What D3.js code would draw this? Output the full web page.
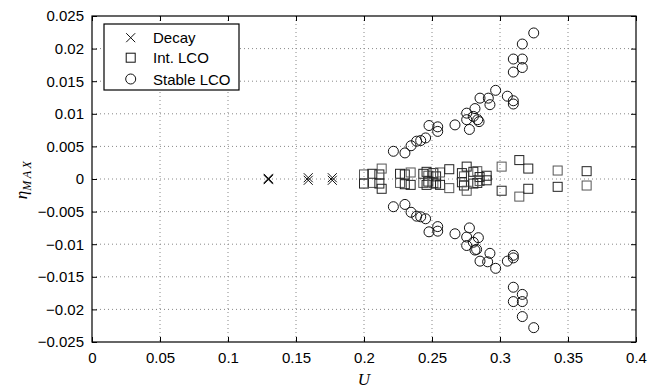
<!DOCTYPE html>
<html><head><meta charset="utf-8">
<script src="https://cdn.jsdelivr.net/npm/d3@7"></script>
<style>body{margin:0;background:#fff}svg{display:block}</style>
</head><body>
<svg id="chart" width="657" height="391"></svg>
<script>
const xTicks = [0,0.05,0.1,0.15,0.2,0.25,0.3,0.35,0.4];
const yTicks = [-0.025,-0.02,-0.015,-0.01,-0.005,0,0.005,0.01,0.015,0.02,0.025];
const legendLabels = ["Decay","Int. LCO","Stable LCO"];

const decayU   = [0.1297,0.1297,0.1297,0.159,0.159,0.1767,0.1767];
const decayEta = [0,0.0001,-0.0001,0.0002,-0.0002,0.0002,-0.0002];

const intU = [0.2000,0.2000,0.2061,0.2061,0.2113,0.2113,0.2130,0.2130,0.2265,0.2265,0.2300,0.2300,0.2343,0.2343,
  0.2436,0.2436,0.2460,0.2460,0.2473,0.2473,0.2510,0.2510,0.2530,0.2530,0.2559,0.2559,0.2627,0.2627,
  0.2720,0.2720,0.2735,0.2735,0.2755,0.2755,0.2804,0.2804,0.2833,0.2833,0.2850,0.2850,0.2902,0.2902,
  0.3012,0.3012,0.3142,0.3142,0.3208,0.3208,0.3424,0.3424,0.3637,0.3637];
const intEta = [0.0007,-0.0007,0.0008,-0.0006,0.0007,-0.0007,0.0016,-0.0015,0.0008,-0.0006,0.0007,-0.0008,0.0010,-0.0009,
  0.0008,-0.0006,0.0011,-0.0009,0.0005,-0.0004,0.0009,-0.0006,0.0004,-0.0007,0.0010,-0.0009,0.0015,-0.0014,
  0.0009,-0.0005,0.0004,-0.0010,0.0019,-0.0018,0.0011,-0.0007,0.0012,-0.0006,0.0003,-0.0003,0.0005,-0.0002,
  0.0019,-0.0018,0.0029,-0.0027,0.0016,-0.0015,0.0013,-0.0012,0.0012,-0.0010];

const stableU = [0.2216,0.2301,0.2346,0.2387,0.2417,0.2453,0.2478,0.2542,0.2542,0.2669,0.2755,0.2775,0.2755,0.2804,0.2816,
  0.2836,0.2846,0.2853,0.2914,0.2926,0.2968,0.3054,0.3098,0.3098,0.3098,0.3164,0.3164,0.3098,0.3164,0.3248,
  0.2216,0.2301,0.2346,0.2387,0.2417,0.2453,0.2478,0.2542,0.2542,0.2669,0.2775,0.2755,0.2755,0.2804,0.2816,
  0.2841,0.2828,0.2853,0.2909,0.2926,0.2968,0.3054,0.3098,0.3098,0.3098,0.3164,0.3098,0.3164,0.3164,0.3248];
const stableEta = [0.00425,0.0040,0.0051,0.0058,0.0059,0.0063,0.0082,0.0080,0.0073,0.0083,0.0101,0.0076,0.0091,0.0096,0.0108,
  0.0091,0.0088,0.0124,0.0124,0.0114,0.0136,0.0127,0.0120,0.0115,0.0184,0.0184,0.0171,0.0164,0.0207,0.0224,
  -0.00425,-0.0039,-0.0051,-0.0057,-0.0058,-0.0061,-0.0081,-0.0073,-0.0080,-0.0084,-0.0075,-0.0089,-0.0102,-0.0097,-0.0109,
  -0.0090,-0.0108,-0.0126,-0.0127,-0.0114,-0.0137,-0.0126,-0.0117,-0.0121,-0.0166,-0.0177,-0.0188,-0.0188,-0.0211,-0.0228];

const W = 657, H = 391;
const m = {left:92, right:21, top:16, bottom:49};
const iw = W - m.left - m.right, ih = H - m.top - m.bottom;
const svg = d3.select("#chart");
const g = svg.append("g").attr("transform", `translate(${m.left},${m.top})`);
const x = d3.scaleLinear().domain([0,0.4]).range([0,iw]);
const y = d3.scaleLinear().domain([-0.025,0.025]).range([ih,0]);
const font = "'Liberation Sans', Arial, Helvetica, sans-serif";

// grid
g.append("g").selectAll("line").data(xTicks.slice(1,-1)).join("line")
  .attr("x1",d=>x(d)).attr("x2",d=>x(d)).attr("y1",0).attr("y2",ih)
  .attr("stroke","#888").attr("stroke-width",1).attr("stroke-dasharray","1,3");
g.append("g").selectAll("line").data(yTicks.slice(1,-1)).join("line")
  .attr("y1",d=>y(d)).attr("y2",d=>y(d)).attr("x1",0).attr("x2",iw)
  .attr("stroke","#888").attr("stroke-width",1).attr("stroke-dasharray","1,3");

const fmtY = d => d===0 ? "0" : (d<0?"\u2212":"") + String(+Math.abs(d).toFixed(3));
const fmtX = d => d===0 ? "0" : String(+d.toFixed(2));

function styleAxis(sel){
  sel.select(".domain").remove();
  sel.selectAll("line").attr("stroke","#000");
  sel.selectAll("text").attr("font-family",font).attr("font-size",15).attr("fill","#000");
}
g.append("g").attr("transform",`translate(0,${ih})`)
  .call(d3.axisBottom(x).tickValues(xTicks).tickFormat(fmtX).tickSizeInner(-5).tickSizeOuter(0).tickPadding(10))
  .call(styleAxis);
g.append("g")
  .call(d3.axisLeft(y).tickValues(yTicks).tickFormat(fmtY).tickSizeInner(-5).tickSizeOuter(0).tickPadding(8))
  .call(styleAxis);
g.append("g")
  .call(d3.axisTop(x).tickValues(xTicks).tickFormat("").tickSizeInner(-5).tickSizeOuter(0))
  .call(styleAxis);
g.append("g").attr("transform",`translate(${iw},0)`)
  .call(d3.axisRight(y).tickValues(yTicks).tickFormat("").tickSizeInner(-5).tickSizeOuter(0))
  .call(styleAxis);

g.append("rect").attr("x",0).attr("y",0).attr("width",iw).attr("height",ih)
  .attr("fill","none").attr("stroke","#000").attr("stroke-width",1.2);

// markers
const cross = (sel, cx, cy, s) => sel.append("path")
  .attr("d",`M${cx-s},${cy-s}L${cx+s},${cy+s}M${cx-s},${cy+s}L${cx+s},${cy-s}`)
  .attr("stroke","#111").attr("stroke-width",1).attr("fill","none");

const pts = g.append("g");
decayU.forEach((u,i)=>cross(pts, x(u), y(decayEta[i]), 4.5));
pts.append("g").selectAll("rect").data(intU.map((u,i)=>[u,intEta[i]])).join("rect")
  .attr("x",d=>x(d[0])-4.5).attr("y",d=>y(d[1])-4.5).attr("width",9).attr("height",9)
  .attr("fill","none").attr("stroke",(d,i)=> i%3===0 ? "#555" : "#222").attr("stroke-width",1);
pts.append("g").selectAll("circle").data(stableU.map((u,i)=>[u,stableEta[i]])).join("circle")
  .attr("cx",d=>x(d[0])).attr("cy",d=>y(d[1])).attr("r",5)
  .attr("fill","none").attr("stroke","#111").attr("stroke-width",1);

// legend
const lg = svg.append("g").attr("transform","translate(104,24)");
lg.append("rect").attr("width",135).attr("height",66).attr("fill","#fff").attr("stroke","#000").attr("stroke-width",1.2);
const rowsY = [13.7,33.7,55];
legendLabels.forEach((t,i)=>{
  const cy = rowsY[i], cx = 26.7;
  if(i===0) cross(lg, cx, cy, 4.5);
  else if(i===1) lg.append("rect").attr("x",cx-4.5).attr("y",cy-4.5).attr("width",9).attr("height",9).attr("fill","none").attr("stroke","#111");
  else lg.append("circle").attr("cx",cx).attr("cy",cy).attr("r",5).attr("fill","none").attr("stroke","#111");
  lg.append("text").attr("x",49).attr("y",cy+5.5).attr("font-family",font).attr("font-size",15).text(t);
});

// axis titles
svg.append("text").attr("x", m.left + iw/2).attr("y", 385)
  .attr("text-anchor","middle").attr("font-family","'Liberation Serif','Times New Roman',serif")
  .attr("font-style","italic").attr("font-size",17).text("U");
const yt = svg.append("text").attr("transform",`translate(27,${m.top+ih/2}) rotate(-90)`)
  .attr("text-anchor","middle").attr("font-family","'Liberation Serif','Times New Roman',serif")
  .attr("font-style","italic").attr("font-size",17);
yt.append("tspan").text("η");
yt.append("tspan").attr("font-size",12).attr("dy",4).attr("letter-spacing",2.5).text("MAX");
</script>
</body></html>
